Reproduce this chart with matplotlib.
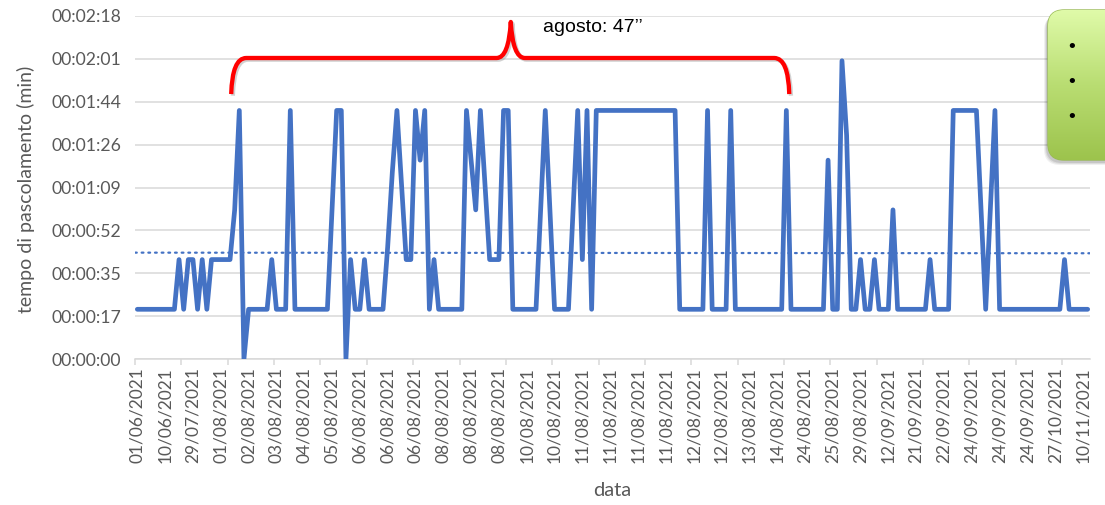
import numpy as np
import matplotlib.pyplot as plt
import matplotlib.patheffects as pe
from matplotlib.path import Path
from matplotlib.patches import PathPatch, FancyBboxPatch
from matplotlib.colors import LinearSegmentedColormap
from matplotlib.ticker import FuncFormatter

plt.rcParams['font.family'] = ['Lato', 'DejaVu Sans']

# grazing time per observation (seconds)
tempo_sec = [
    20, 20, 20, 20, 20, 20, 20, 20, 20, 40,
    20, 40, 40, 20, 40, 20, 40, 40, 40, 40,
    40, 60, 100, 0, 20, 20, 20, 20, 20, 40,
    20, 20, 20, 100, 20, 20, 20, 20, 20, 20,
    20, 20, 60, 100, 100, 0, 40, 20, 20, 40,
    20, 20, 20, 20, 45, 75, 100, 70, 40, 40,
    100, 80, 100, 20, 40, 20, 20, 20, 20, 20,
    20, 100, 80, 60, 100, 70, 40, 40, 40, 100,
    100, 20, 20, 20, 20, 20, 20, 60, 100, 60,
    20, 20, 20, 20, 60, 100, 40, 100, 20, 100,
    100, 100, 100, 100, 100, 100, 100, 100, 100, 100,
    100, 100, 100, 100, 100, 100, 100, 20, 20, 20,
    20, 20, 20, 100, 20, 20, 20, 20, 100, 20,
    20, 20, 20, 20, 20, 20, 20, 20, 20, 20,
    100, 20, 20, 20, 20, 20, 20, 20, 20, 80,
    20, 20, 120, 90, 20, 20, 40, 20, 20, 40,
    20, 20, 20, 60, 20, 20, 20, 20, 20, 20,
    20, 40, 20, 20, 20, 20, 100, 100, 100, 100,
    100, 100, 60, 20, 60, 100, 20, 20, 20, 20,
    20, 20, 20, 20, 20, 20, 20, 20, 20, 20,
    40, 20, 20, 20, 20, 20,
]

# date labels shown on the axis (one every 6 observations)
date_labels = ['01/06/2021', '10/06/2021', '29/07/2021', '01/08/2021', '02/08/2021',
               '03/08/2021', '04/08/2021', '05/08/2021', '06/08/2021', '06/08/2021',
               '06/08/2021', '08/08/2021', '08/08/2021', '08/08/2021', '10/08/2021',
               '10/08/2021', '11/08/2021', '11/08/2021', '11/08/2021', '11/08/2021',
               '12/08/2021', '12/08/2021', '13/08/2021', '14/08/2021', '24/08/2021',
               '25/08/2021', '29/08/2021', '12/09/2021', '21/09/2021', '22/09/2021',
               '24/09/2021', '24/09/2021', '24/09/2021', '27/10/2021', '10/11/2021']
label_step = 6
tick_step = 10
y_max = 138

blue = '#4472C4'
grid_grey = '#d9d9d9'
text_grey = '#595959'

y = np.array(tempo_sec, dtype=float)
x = np.arange(len(y))

fig = plt.figure(figsize=(11.05, 5.05), dpi=100)
ax = fig.add_axes([135 / 1105, 146 / 505, 955 / 1105, 343 / 505])

ax.plot(x, y, color=blue, lw=3.4, solid_joinstyle='round', solid_capstyle='round', zorder=3)

# linear trend
coef = np.polyfit(x, y, 1)
xt = np.array([-0.5, len(y) - 0.5])
ax.plot(xt, np.polyval(coef, xt), color=blue, lw=1.6, linestyle=(0, (0.8, 2.2)),
        dash_capstyle='round', zorder=2)

ax.set_xlim(-0.5, len(y) - 0.5)
ax.set_ylim(0, y_max)

yt = np.linspace(0, y_max, 9)
ax.set_yticks(yt)


def hms(v, pos):
    s = int(v + 0.5)
    return '%02d:%02d:%02d' % (s // 3600, (s // 60) % 60, s % 60)


ax.yaxis.set_major_formatter(FuncFormatter(hms))
ax.grid(axis='y', color=grid_grey, lw=1.1)
ax.set_axisbelow(True)

ax.set_xticks(np.arange(0, len(date_labels) * label_step, label_step))
ax.set_xticklabels(date_labels, rotation=90)
ax.set_xticks(np.arange(-0.5, len(y) - 1, tick_step), minor=True)
ax.tick_params(axis='x', which='major', length=0, pad=6, labelsize=12.5, labelcolor=text_grey)
ax.tick_params(axis='x', which='minor', length=4.5, width=1.1, color=grid_grey)
ax.tick_params(axis='y', length=0, pad=10, labelsize=12.7, labelcolor=text_grey)

for side in ['left', 'right', 'top']:
    ax.spines[side].set_visible(False)
ax.spines['bottom'].set_color(grid_grey)
ax.spines['bottom'].set_linewidth(1.1)

fig.text(26 / 1105, 1 - 189 / 505, 'tempo di pascolamento (min)', rotation=90,
         ha='center', va='center', fontsize=14, color=text_grey)
fig.text(612 / 1105, 1 - 490 / 505, 'data', ha='center', va='center',
         fontsize=14.5, color=text_grey)

# curly brace over the August observations
brace_pts = [(20.25, 106.6), (20.47, 121.1), (23.49, 121.1), (77.5, 121.1),
             (80.1, 121.1), (80.56, 135.6), (81.0, 121.1), (83.6, 121.1),
             (137.39, 121.1), (140.42, 121.1), (140.63, 106.6)]
brace_codes = [Path.MOVETO, Path.CURVE3, Path.CURVE3, Path.LINETO,
               Path.CURVE3, Path.CURVE3, Path.CURVE3, Path.CURVE3,
               Path.LINETO, Path.CURVE3, Path.CURVE3]
brace = PathPatch(Path(brace_pts, brace_codes), fill=False, edgecolor='#ff0000', lw=3.1,
                  capstyle='butt', joinstyle='round', clip_on=False, zorder=5)
brace.set_path_effects([pe.SimpleLineShadow(offset=(1.2, -1.2), shadow_color='#808080', alpha=0.35),
                        pe.Normal()])
ax.add_patch(brace)
ax.text(87.5, 133.2, 'agosto: 47\u2019\u2019', ha='left', va='center', fontsize=14,
        family='Liberation Sans', color='black', zorder=6)

# green callout box in the upper right corner
ov = fig.add_axes([0, 0, 1, 1], facecolor='none')
ov.set_xlim(0, 1105)
ov.set_ylim(505, 0)
ov.axis('off')
for k, a in enumerate([0.10, 0.08, 0.06]):
    sh = FancyBboxPatch((1046 - k, 13 + k), 80, 150,
                        boxstyle='round,pad=0,rounding_size=16',
                        facecolor='#000000', edgecolor='none', alpha=a)
    ov.add_patch(sh)
box = FancyBboxPatch((1048, 10), 80, 150, boxstyle='round,pad=0,rounding_size=16',
                     facecolor='none', edgecolor='#98b954', lw=1)
ov.add_patch(box)
green = LinearSegmentedColormap.from_list('green', ['#e0fbaa', '#b9dd72', '#9cc34c'])
grad = ov.imshow(np.linspace(0, 1, 100).reshape(-1, 1), cmap=green, aspect='auto',
                 extent=(1040, 1110, 162, 8), zorder=1)
grad.set_clip_path(box)
for yb in [47, 82, 117]:
    ov.text(1072, yb, '\u2022', ha='center', va='center', fontsize=13, color='black',
            family='DejaVu Sans', zorder=3)

fig.savefig('out.png', dpi=100)
